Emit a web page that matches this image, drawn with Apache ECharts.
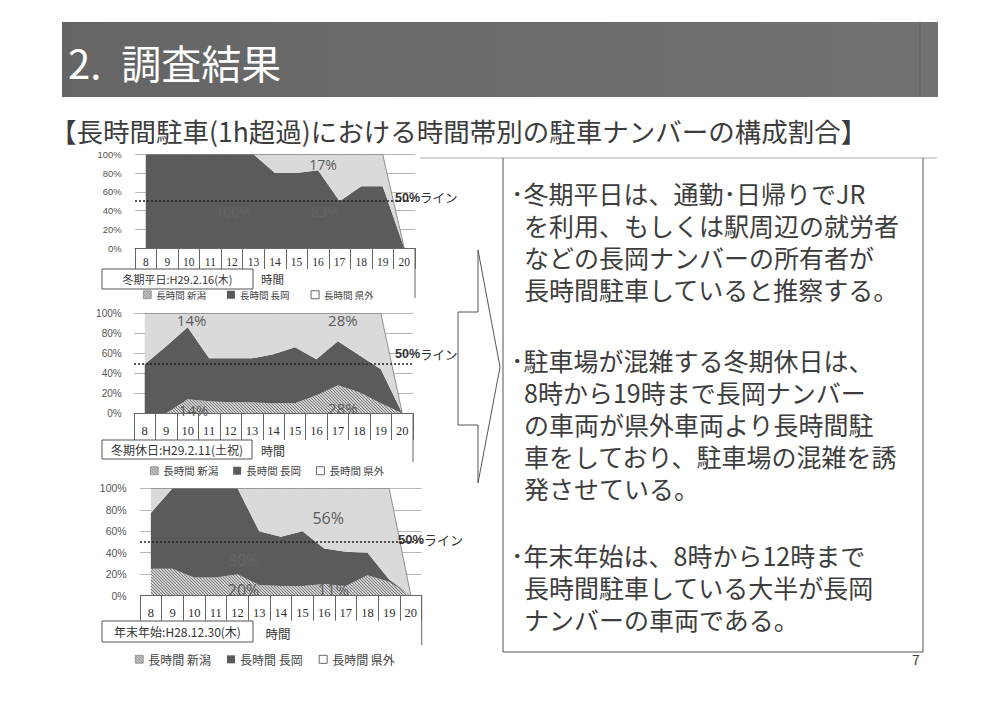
<!DOCTYPE html>
<html><head><meta charset="utf-8">
<script src="https://cdn.jsdelivr.net/npm/echarts@6/dist/echarts.min.js"></script>
<style>html,body{margin:0;padding:0;background:#fff}#c{width:1000px;height:704px}</style>
</head><body><div id="c"></div>
<script>
// ---------- data ----------
const hours = ['8','9','10','11','12','13','14','15','16','17','18','19','20'];
const seriesNames = ['長時間 新潟','長時間 長岡','長時間 県外'];
const chartTitles = ['冬期平日:H29.2.16(木)','冬期休日:H29.2.11(土祝)','年末年始:H28.12.30(木)'];
const axisTitle = '時間';
const refLine = 50;
// 冬期平日
const weekdayNiigata = [0,0,0,0,0,0,0,0,0,0,0,0,0];
const weekdayNagaoka = [100,100,100,100,100,100,80,80,83,50,66,66,0];
const weekdayKengai  = [0,0,0,0,0,0,20,20,17,50,34,34,0];
// 冬期休日
const holidayNiigata = [0,0,14,12,11,11,10,10,18,28,21,10,0];
const holidayNagaoka = [49,67,72,43,44,44,49,56,36,44,37,34,0];
const holidayKengai  = [51,33,14,45,45,45,41,34,46,28,42,56,0];
// 年末年始
const newYearNiigata = [25,25,17,17,20,10,9,9,11,9,19,13,0];
const newYearNagaoka = [52,75,83,83,80,50,46,51,33,32,21,2,0];
const newYearKengai  = [23,0,0,0,0,40,45,40,56,59,60,85,0];

const titleText = '2.\u2002調査結果';
const subtitleText = '【長時間駐車(1h超過)における時間帯別の駐車ナンバーの構成割合】';
const noteLines = [
  ['･冬期平日は、通勤･日帰りでJR','を利用、もしくは駅周辺の就労者','などの長岡ナンバーの所有者が','長時間駐車していると推察する。'],
  ['･駐車場が混雑する冬期休日は、','8時から19時まで長岡ナンバー','の車両が県外車両より長時間駐','車をしており、駐車場の混雑を誘','発させている。'],
  ['･年末年始は、8時から12時まで','長時間駐車している大半が長岡','ナンバーの車両である。']
];
const pageNo = '7';

// ---------- styles / layout ----------
const JP = '"Noto Sans CJK JP", sans-serif';
function hatchURL(){
  const c=document.createElement('canvas'); c.width=3; c.height=3;
  const g=c.getContext('2d'); g.fillStyle='#cdcdcd'; g.fillRect(0,0,3,3);
  g.fillStyle='#7c7c7c'; for(let i=0;i<3;i++) g.fillRect(i,i,1,1);
  return c.toDataURL();
}
const hatch = {image: hatchURL(), repeat:'repeat', imageWidth:3, imageHeight:3};
const DARK = '#5b5b5b', LIGHT = '#dadada';

const charts = [
  {niigata: weekdayNiigata, nagaoka: weekdayNagaoka, kengai: weekdayKengai},
  {niigata: holidayNiigata, nagaoka: holidayNagaoka, kengai: holidayKengai},
  {niigata: newYearNiigata, nagaoka: newYearNagaoka, kengai: newYearKengai}
];
const layout = [
  {grid:{left:135, top:154.3, width:280, height:93.7}, tick:21, catMargin:8, catFont:11.5, yFont:9.5, yMargin:13.3,
   box:{x:102,y:269,w:151,h:20,font:11}, time:{x:272.5,y:279,font:11.5}, right:{x:415,y1:248,y2:298},
   legend:{left:143, cy:295, font:9.5, gap:21}, ref:{x:395,y:197.5,font:12.5}, labelFont:14,
   labels:[{s:'kengai',i:8,y:88.6,dx:5},{s:'nagaoka',i:4,y:38.7,dx:1,faint:1},{s:'nagaoka',i:8,y:38.7,dx:7,faint:1}]},
  {grid:{left:134, top:313.3, width:279, height:100}, tick:26.7, catMargin:11.5, catFont:12.5, yFont:10, yMargin:12.3,
   box:{x:102,y:440,w:150,h:19,font:12}, time:{x:273,y:450,font:12}, right:{x:413,y1:413.3,y2:462},
   legend:{left:150, cy:470.5, font:10.5, gap:15}, ref:{x:395,y:354.3,font:12.5}, labelFont:15,
   labels:[{s:'kengai',i:2,y:93,dx:4},{s:'kengai',i:9,y:93,dx:5},{s:'niigata',i:2,y:3.3,dx:6},{s:'niigata',i:9,y:5.3,dx:5}]},
  {grid:{left:140, top:488.3, width:281.7, height:107.4}, tick:25, catMargin:10.7, catFont:12.5, yFont:10.5, yMargin:13.3,
   box:{x:102,y:621,w:151,h:21,font:12}, time:{x:278,y:633,font:12.5}, right:{x:421.7,y1:595.7,y2:645},
   legend:{left:135, cy:658.3, font:12, gap:16}, ref:{x:398,y:539,font:13}, labelFont:16,
   labels:[{s:'kengai',i:8,y:72,dx:4},{s:'niigata',i:4,y:5,dx:6},{s:'niigata',i:8,y:5,dx:9},{s:'nagaoka',i:4,y:33,dx:6,faint:1}]}
];

// ---------- build option ----------
const grids=[], xAxes=[], yAxes=[], series=[], legends=[], graphics=[];
const legendIcon = [
  {color: hatch, borderColor:'#777', borderWidth:0.6},
  {color: DARK},
  {color:'#fff', borderColor:'#666', borderWidth:1}
];

charts.forEach((c,k)=>{
  const L = layout[k];
  grids.push(Object.assign({containLabel:false}, L.grid));
  xAxes.push({type:'category', gridIndex:k, data:hours, boundaryGap:true, z:4,
    axisLine:{show:true, lineStyle:{color:'#666', width:1}},
    axisTick:{show:true, interval:0, length:L.tick, lineStyle:{color:'#666', width:1}},
    axisLabel:{interval:0, margin:L.catMargin, fontSize:L.catFont, color:'#2e2e2e', fontFamily:'"Liberation Serif", serif'},
    splitLine:{show:false}});
  yAxes.push({type:'value', gridIndex:k, min:0, max:100, interval:20, z:3,
    axisLine:{show:false}, axisTick:{show:false},
    axisLabel:{formatter:'{value}%', fontSize:L.yFont, color:'#555', margin:L.yMargin, fontFamily:'"Liberation Sans", sans-serif'},
    splitLine:{lineStyle:{color:'rgba(135,135,135,0.6)', width:1}}});

  const fills = {niigata: hatch, nagaoka: DARK, kengai: LIGHT};
  ['niigata','nagaoka','kengai'].forEach((key,si)=>{
    const data = c[key];
    const lbls = L.labels.filter(l=>l.s===key);
    const s = {
      name: seriesNames[si], type:'line', xAxisIndex:k, yAxisIndex:k, stack:'c'+k,
      data: data, symbol:'none', silent:true, animation:false,
      lineStyle: key==='kengai' ? {width:0.8, color:'#777'} : {width:0},
      areaStyle:{color: fills[key], opacity:1}
    };
    if (lbls.length) {
      s.markPoint = {symbol:'rect', symbolSize:1, silent:true, animation:false,
        itemStyle:{color:'rgba(0,0,0,0)'},
        data: lbls.map(l=>({coord:[hours[l.i], l.y], value: data[l.i],
          label:{show:true, position:'inside', offset:[l.dx,0], formatter:'{c}%',
            fontSize:L.labelFont, fontFamily:'"Open Sans", sans-serif',
            color: l.faint ? '#646464' : '#5a5a5a'}}))};
    }
    if (key==='kengai') {
      s.markLine = {symbol:'none', silent:true, animation:false, label:{show:false},
        lineStyle:{type:[2,2], color:'#222', width:1.6},
        data:[{yAxis: refLine}]};
    }
    series.push(s);
  });

  legends.push({left:L.legend.left, top:L.legend.cy-5, itemWidth:8, itemHeight:8, itemGap:L.legend.gap,
    icon:'rect', selectedMode:false, padding:0,
    textStyle:{fontSize:L.legend.font, lineHeight:L.legend.font, color:'#444', fontFamily:JP},
    data: seriesNames.map((n,i)=>({name:n, itemStyle: legendIcon[i]}))});

  // table box, axis title, right border, 50% label
  graphics.push({type:'rect', shape:{x:L.box.x, y:L.box.y, width:L.box.w, height:L.box.h},
    style:{fill:'#fff', stroke:'#555', lineWidth:1}, z:10});
  graphics.push({type:'text', x:L.box.x+L.box.w/2, y:L.box.y+L.box.h/2, z:11,
    style:{text:chartTitles[k], fill:'#333', font:L.box.font+'px '+JP, lineHeight:L.box.font, align:'center', verticalAlign:'middle'}});
  graphics.push({type:'text', x:L.time.x, y:L.time.y, z:11,
    style:{text:axisTitle, fill:'#333', font:L.time.font+'px '+JP, lineHeight:L.time.font, align:'center', verticalAlign:'middle'}});
  graphics.push({type:'line', shape:{x1:L.right.x, y1:L.right.y1, x2:L.right.x, y2:L.right.y2}, z:10,
    style:{stroke:'#666', lineWidth:1}});
  graphics.push({type:'text', x:L.ref.x, y:L.ref.y, z:11,
    style:{text:'{a|'+refLine+'%}ライン', fill:'#333', font:L.ref.font+'px '+JP, align:'left', verticalAlign:'middle',
      rich:{a:{fontWeight:'bold', fontSize:L.ref.font, fontFamily:'"Liberation Sans", sans-serif', fill:'#333'}}}});
});

// slide header
graphics.push({type:'rect', shape:{x:62, y:22, width:876, height:75}, z:1,
  style:{fill:new echarts.graphic.LinearGradient(0,0,1,0,[{offset:0,color:'#656565'},{offset:1,color:'#727272'}])}});
graphics.push({type:'line', shape:{x1:920,y1:22,x2:920,y2:97}, z:2, style:{stroke:'#5c5c5c', lineWidth:1}});
graphics.push({type:'text', x:68, y:62, z:3,
  style:{text:titleText, fill:'#fff', font:'40px '+JP, align:'left', verticalAlign:'middle'}});
graphics.push({type:'text', x:50, y:130.5, z:3,
  style:{text:subtitleText, fill:'#3c3c3c', font:'26.5px '+JP, lineHeight:27, align:'left', verticalAlign:'middle'}});
// note box
graphics.push({type:'line', shape:{x1:420,y1:158,x2:937,y2:158}, z:2, style:{stroke:'#aaa', lineWidth:1}});
graphics.push({type:'polyline', shape:{points:[[503,158],[503,652],[923,652],[923,158]]}, z:2, style:{stroke:'#555', lineWidth:1, fill:null}});
graphics.push({type:'text', x:916, y:659, z:3, style:{text:pageNo, fill:'#444', font:'14px '+JP, align:'center', verticalAlign:'middle'}});
const paraStart = [193, 360, 555];
noteLines.forEach((para,p)=>{
  para.forEach((line,j)=>{
    graphics.push({type:'text', x: j===0 ? 511 : 524, y: paraStart[p] + j*32, z:3,
      style:{text:line, fill:'#3d3d3d', font:'25px '+JP, lineHeight:26, align:'left', verticalAlign:'middle'}});
  });
});
// arrow
graphics.push({type:'polygon', z:3, shape:{points:[[458,312],[478,312],[478,250],[500,367],[478,483],[478,425],[458,425]]},
  style:{fill:'#fff', stroke:'#555', lineWidth:1}});

const option = {
  backgroundColor:'#fff', animation:false,
  textStyle:{fontFamily:JP},
  grid:grids, xAxis:xAxes, yAxis:yAxes, series:series, legend:legends, graphic:graphics
};
const chart = echarts.init(document.getElementById('c'), null, {renderer:'svg'});
chart.setOption(option);
</script></body></html>
